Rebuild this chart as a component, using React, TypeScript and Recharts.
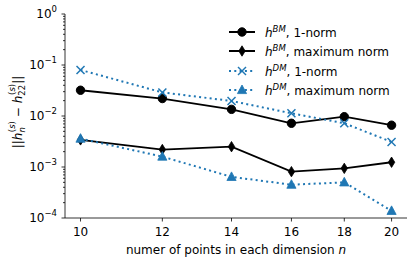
import React from "react";
import { LineChart, Line, XAxis, YAxis } from "recharts";

const nValues = [10, 12, 14, 16, 18, 20];
const bmOneNorm = [0.032, 0.022, 0.0135, 0.0072, 0.0097, 0.0066];
const bmMaxNorm = [0.0034, 0.0022, 0.0025, 0.00081, 0.00094, 0.00124];
const dmOneNorm = [0.08, 0.029, 0.0197, 0.0113, 0.0072, 0.0031];
const dmMaxNorm = [0.0036, 0.0016, 0.00064, 0.00045, 0.0005, 0.000138];

const xTicks = [10, 12, 14, 16, 18, 20];
const yDecades = [-4, -3, -2, -1];

const BLUE = "#1f77b4";
const FONT = "'DejaVu Sans', sans-serif";
const FS = 12;
const SUB = 8.5;

const yTicks: number[] = [];
yDecades.forEach((e) => {
  for (let m = 1; m <= 9; m++) yTicks.push(m * Math.pow(10, e));
});
yTicks.push(1);

const data = nValues.map((n, i) => ({
  n,
  bm1: bmOneNorm[i],
  bmMax: bmMaxNorm[i],
  dm1: dmOneNorm[i],
  dmMax: dmMaxNorm[i],
}));

function Marker({ kind, cx, cy, color }: any) {
  if (cx == null || cy == null) return null;
  switch (kind) {
    case "circle":
      return <circle cx={cx} cy={cy} r={4.2} fill={color} stroke={color} />;
    case "diamond":
      return (
        <polygon
          points={`${cx},${cy - 5.2} ${cx + 3.2},${cy} ${cx},${cy + 5.2} ${cx - 3.2},${cy}`}
          fill={color}
          stroke={color}
          strokeWidth={0.8}
        />
      );
    case "x":
      return (
        <g stroke={color} strokeWidth={1.5}>
          <line x1={cx - 4} y1={cy - 4} x2={cx + 4} y2={cy + 4} />
          <line x1={cx - 4} y1={cy + 4} x2={cx + 4} y2={cy - 4} />
        </g>
      );
    default:
      return (
        <polygon
          points={`${cx},${cy - 5} ${cx + 4.6},${cy + 3.6} ${cx - 4.6},${cy + 3.6}`}
          fill={color}
          stroke={color}
          strokeWidth={0.8}
        />
      );
  }
}

function YTick({ x, y, payload }: any) {
  const lg = Math.log10(payload.value);
  const exp = Math.round(lg);
  const major = Math.abs(lg - exp) < 1e-6;
  return (
    <g>
      <line x1={x} x2={x - (major ? 3.5 : 2)} y1={y} y2={y} stroke="#000" strokeWidth={0.8} />
      {major && (
        <text x={x - 8} y={y + 4} textAnchor="end" fontSize={FS} fontFamily={FONT} fill="#000">
          10
          <tspan dy={-6} fontSize={SUB}>
            {exp === 0 ? "0" : "\u2212" + Math.abs(exp)}
          </tspan>
        </text>
      )}
    </g>
  );
}

function XTick({ x, y, payload }: any) {
  return (
    <g>
      <line x1={x} x2={x} y1={y} y2={y + 3.5} stroke="#000" strokeWidth={0.8} />
      <text x={x} y={y + 18} textAnchor="middle" fontSize={FS} fontFamily={FONT} fill="#000">
        {payload.value}
      </text>
    </g>
  );
}

function XLabel() {
  return (
    <text x={236} y={254} textAnchor="middle" fontSize={FS} fontFamily={FONT} fill="#000">
      numer of points in each dimension <tspan fontStyle="italic">n</tspan>
    </text>
  );
}

function YLabel() {
  return (
    <text
      transform="translate(22,112) rotate(-90)"
      textAnchor="middle"
      fontSize={FS}
      fontFamily={FONT}
      fill="#000"
    >
      ||
      <tspan fontStyle="italic">h</tspan>
      <tspan dy={3} fontSize={SUB} fontStyle="italic">n</tspan>
      <tspan dy={-10} dx={-5} fontSize={SUB}>(</tspan>
      <tspan fontSize={SUB} fontStyle="italic">s</tspan>
      <tspan fontSize={SUB}>)</tspan>
      <tspan dy={7}> {"\u2212"} </tspan>
      <tspan fontStyle="italic">h</tspan>
      <tspan dy={3} fontSize={SUB}>22</tspan>
      <tspan dy={-10} dx={-10} fontSize={SUB}>(</tspan>
      <tspan fontSize={SUB} fontStyle="italic">s</tspan>
      <tspan fontSize={SUB}>)</tspan>
      <tspan dy={7}>||</tspan>
    </text>
  );
}

const legendItems = [
  { kind: "circle", color: "#000", dash: undefined, sup: "BM", text: ", 1-norm" },
  { kind: "diamond", color: "#000", dash: undefined, sup: "BM", text: ", maximum norm" },
  { kind: "x", color: BLUE, dash: "2 3.3", sup: "DM", text: ", 1-norm" },
  { kind: "triangle", color: BLUE, dash: "2 3.3", sup: "DM", text: ", maximum norm" },
];

function LegendBox() {
  return (
    <div
      style={{
        position: "absolute",
        left: 229,
        top: 22,
        fontFamily: FONT,
        fontSize: FS,
        color: "#000",
      }}
    >
      {legendItems.map((it) => (
        <div key={it.kind} style={{ display: "flex", alignItems: "center", height: 19.5 }}>
          <svg width={26} height={14} style={{ overflow: "visible" }}>
            <line x1={0} x2={26} y1={7} y2={7} stroke={it.color} strokeWidth={2} strokeDasharray={it.dash} />
            <Marker kind={it.kind} cx={13} cy={7} color={it.color} />
          </svg>
          <span style={{ marginLeft: 10, whiteSpace: "nowrap" }}>
            <span style={{ fontStyle: "italic" }}>h</span>
            <sup style={{ fontStyle: "italic", fontSize: SUB }}>{it.sup}</sup>
            {it.text}
          </span>
        </div>
      ))}
    </div>
  );
}

export default function App() {
  return (
    <div style={{ position: "absolute", left: 0, top: 0, width: 416, height: 266, background: "#fff" }}>
      <LineChart width={416} height={266} data={data} margin={{ top: 14, right: 9, bottom: 0, left: 0 }}>
        <XAxis
          dataKey="n"
          type="number"
          scale="log"
          domain={[9.66, 20.7]}
          allowDataOverflow
          ticks={xTicks}
          tick={<XTick />}
          tickLine={false}
          tickSize={0}
          tickMargin={0}
          height={48}
          axisLine={{ stroke: "#000", strokeWidth: 0.8 }}
          label={<XLabel />}
        />
        <XAxis
          xAxisId="top"
          orientation="top"
          dataKey="n"
          type="number"
          scale="log"
          domain={[9.66, 20.7]}
          allowDataOverflow
          tick={false}
          tickLine={false}
          height={0}
          axisLine={{ stroke: "#000", strokeWidth: 0.8 }}
        />
        <YAxis
          type="number"
          scale="log"
          domain={[1e-4, 1]}
          allowDataOverflow
          ticks={yTicks}
          interval={0}
          tick={<YTick />}
          tickLine={false}
          tickSize={0}
          tickMargin={0}
          width={65}
          axisLine={{ stroke: "#000", strokeWidth: 0.8 }}
          label={<YLabel />}
        />
        <YAxis
          yAxisId="right"
          orientation="right"
          type="number"
          scale="log"
          domain={[1e-4, 1]}
          allowDataOverflow
          tick={false}
          tickLine={false}
          width={0}
          axisLine={{ stroke: "#000", strokeWidth: 0.8 }}
        />
        <Line
          dataKey="bm1"
          stroke="#000"
          strokeWidth={1.8}
          isAnimationActive={false}
          dot={(p: any) => <Marker key={p.index} kind="circle" cx={p.cx} cy={p.cy} color="#000" />}
        />
        <Line
          dataKey="bmMax"
          stroke="#000"
          strokeWidth={1.8}
          isAnimationActive={false}
          dot={(p: any) => <Marker key={p.index} kind="diamond" cx={p.cx} cy={p.cy} color="#000" />}
        />
        <Line
          dataKey="dm1"
          stroke={BLUE}
          strokeWidth={2}
          strokeDasharray="2 3.3"
          isAnimationActive={false}
          dot={(p: any) => <Marker key={p.index} kind="x" cx={p.cx} cy={p.cy} color={BLUE} />}
        />
        <Line
          dataKey="dmMax"
          stroke={BLUE}
          strokeWidth={2}
          strokeDasharray="2 3.3"
          isAnimationActive={false}
          dot={(p: any) => <Marker key={p.index} kind="triangle" cx={p.cx} cy={p.cy} color={BLUE} />}
        />
      </LineChart>
      <LegendBox />
    </div>
  );
}
